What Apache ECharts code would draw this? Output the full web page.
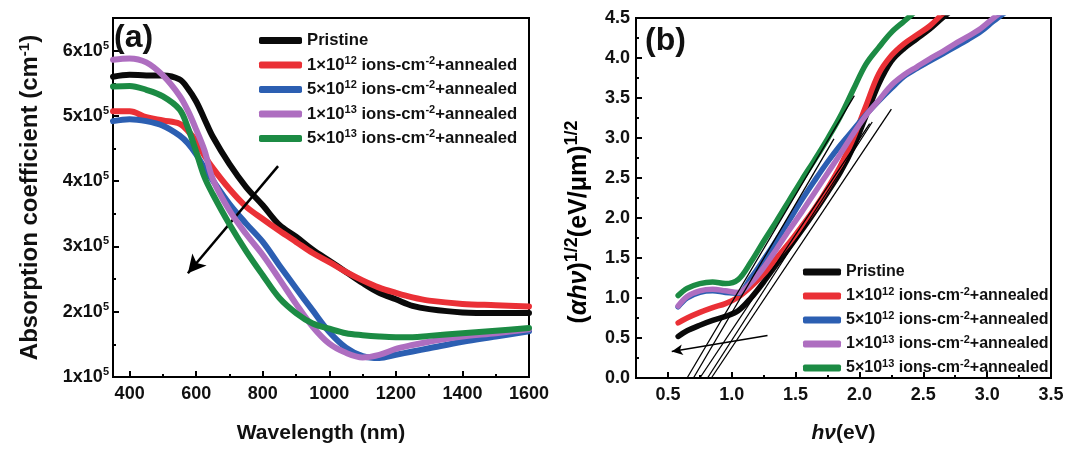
<!DOCTYPE html>
<html>
<head>
<meta charset="utf-8">
<script src="https://cdn.jsdelivr.net/npm/echarts@6/dist/echarts.min.js"></script>
<style>
  html, body { margin: 0; padding: 0; background: #fff; }
  #chart { width: 1067px; height: 449px; }
</style>
</head>
<body>
<div id="chart"></div>
<script>
// ---- data: panel (a) absorption coefficient (x10^5 cm^-1) vs wavelength (nm)
const wavelength = [350, 400, 450, 500, 550, 575, 600, 625, 650, 700, 750, 800, 850, 900, 950, 1000, 1050, 1100, 1150, 1200, 1250, 1300, 1400, 1500, 1600];
const absPristine = [5.60, 5.63, 5.62, 5.62, 5.56, 5.42, 5.22, 4.95, 4.68, 4.26, 3.91, 3.63, 3.33, 3.15, 2.95, 2.78, 2.61, 2.44, 2.29, 2.19, 2.09, 2.04, 1.99, 1.98, 1.98];
const abs1e12 = [5.07, 5.07, 4.98, 4.93, 4.88, 4.77, 4.61, 4.39, 4.20, 3.88, 3.61, 3.42, 3.24, 3.07, 2.90, 2.76, 2.61, 2.48, 2.37, 2.29, 2.22, 2.17, 2.12, 2.10, 2.08];
const abs5e12 = [4.92, 4.95, 4.92, 4.85, 4.70, 4.58, 4.41, 4.20, 4.01, 3.65, 3.35, 3.07, 2.71, 2.36, 2.02, 1.69, 1.45, 1.32, 1.29, 1.34, 1.39, 1.44, 1.54, 1.62, 1.70];
const abs1e13 = [5.86, 5.88, 5.82, 5.62, 5.31, 5.08, 4.79, 4.47, 4.03, 3.55, 3.19, 2.87, 2.50, 2.12, 1.77, 1.51, 1.37, 1.30, 1.34, 1.43, 1.49, 1.54, 1.62, 1.67, 1.73];
const abs5e13 = [5.45, 5.46, 5.40, 5.30, 5.10, 4.82, 4.45, 4.06, 3.80, 3.34, 2.93, 2.56, 2.21, 1.98, 1.82, 1.74, 1.67, 1.64, 1.62, 1.61, 1.61, 1.63, 1.67, 1.71, 1.75];

// ---- data: panel (b) (alpha h nu)^1/2 vs photon energy (eV)
const energy = [0.58, 0.65, 0.75, 0.85, 0.95, 1.05, 1.15, 1.25, 1.35, 1.45, 1.55, 1.65, 1.75, 1.85, 1.95, 2.05, 2.15, 2.25, 2.35, 2.45, 2.55, 2.65, 2.75, 2.85, 2.95, 3.05, 3.15];
const taucPristine = [0.52, 0.59, 0.66, 0.72, 0.77, 0.84, 1.00, 1.20, 1.42, 1.63, 1.85, 2.08, 2.32, 2.57, 2.88, 3.27, 3.67, 3.96, 4.12, 4.24, 4.36, 4.50, 4.63, null, null, null, null];
const tauc1e12 = [0.69, 0.75, 0.82, 0.88, 0.93, 1.01, 1.14, 1.30, 1.50, 1.69, 1.90, 2.12, 2.37, 2.65, 2.99, 3.40, 3.80, 4.03, 4.18, 4.29, 4.40, 4.55, 4.68, null, null, null, null];
const tauc5e12 = [0.89, 1.00, 1.07, 1.09, 1.07, 1.06, 1.25, 1.48, 1.72, 1.97, 2.23, 2.47, 2.70, 2.91, 3.10, 3.29, 3.46, 3.62, 3.77, 3.87, 3.96, 4.05, 4.14, 4.23, 4.33, 4.46, 4.58];
const tauc1e13 = [0.90, 1.02, 1.09, 1.11, 1.09, 1.07, 1.19, 1.38, 1.61, 1.85, 2.08, 2.32, 2.56, 2.80, 3.05, 3.28, 3.47, 3.66, 3.79, 3.89, 3.99, 4.08, 4.18, 4.27, 4.37, 4.50, 4.62];
const tauc5e13 = [1.03, 1.12, 1.18, 1.20, 1.18, 1.23, 1.45, 1.71, 1.96, 2.22, 2.48, 2.73, 2.99, 3.27, 3.60, 3.92, 4.13, 4.32, 4.46, 4.60, null, null, null, null, null, null, null];

// linear fits drawn in (b): start on the energy axis, end point
const fitStartX = [0.65, 0.70, 0.75, 0.81, 0.84];
const fitEndX = [1.96, 1.80, 2.08, 2.10, 2.25];
const fitEndY = [3.53, 2.99, 3.18, 3.20, 3.36];

// annotation arrows [from, to] in data units
const arrowA = [[846, 4.23], [575, 2.59]];
const arrowB = [[1.28, 0.53], [0.53, 0.33]];

// ticks
const wlTicks = [400, 600, 800, 1000, 1200, 1400, 1600];
const wlMinor = [500, 700, 900, 1100, 1300, 1500];
const absTicks = [1, 2, 3, 4, 5, 6];
const absMinor = [1.5, 2.5, 3.5, 4.5, 5.5, 6.5];
const evTicks = [0.5, 1.0, 1.5, 2.0, 2.5, 3.0, 3.5];
const evMinor = [0.75, 1.25, 1.75, 2.25, 2.75, 3.25];

const seriesKeys = ['Pristine', '1e12', '5e12', '1e13', '5e13'];
const colors = ['#0a0a0a', '#ea3036', '#2c5fb2', '#ae6ec0', '#1c8b44'];
const absData = [absPristine, abs1e12, abs5e12, abs1e13, abs5e13];
const taucData = [taucPristine, tauc1e12, tauc5e12, tauc1e13, tauc5e13];

const FONT = '"Liberation Sans", Arial, sans-serif';
const txt = (size) => ({ fontSize: size, fontWeight: 'bold', fontFamily: FONT, color: '#111' });
const sup = (size, raise) => ({ fontSize: size, fontWeight: 'bold', fontFamily: FONT, color: '#111', padding: [0, 0, raise, 0] });

function legendLabel(name) {
  if (name === 'Pristine') return '{t|Pristine}';
  const parts = name.split('e');
  return '{t|' + parts[0] + '×10}{s|' + parts[1] + '}{t| ions-cm}{s|-2}{t|+annealed}';
}

const chart = echarts.init(document.getElementById('chart'));

const blackLine = { color: '#000', width: 2 };
const tickStyle = { color: '#000', width: 2 };

function mainAxis(gridIndex, min, max, extra) {
  return Object.assign({
    gridIndex: gridIndex,
    type: 'value',
    min: min,
    max: max,
    axisLine: { show: true, lineStyle: blackLine },
    splitLine: { show: false },
    axisTick: { inside: true, length: 6, lineStyle: tickStyle },
    axisLabel: Object.assign({ margin: 8 }, txt(18))
  }, extra);
}

function minorAxis(gridIndex, min, max, values, pos) {
  return {
    gridIndex: gridIndex,
    type: 'value',
    min: min,
    max: max,
    position: pos,
    axisLine: { show: false },
    splitLine: { show: false },
    axisLabel: { show: false },
    axisTick: { show: true, inside: true, length: 3, lineStyle: tickStyle, customValues: values }
  };
}

const series = [];
seriesKeys.forEach(function (key, i) {
  series.push({
    name: key, type: 'line', xAxisIndex: 0, yAxisIndex: 0,
    data: wavelength.map((w, j) => [w, absData[i][j]]),
    showSymbol: false, symbol: 'none', smooth: 0.35,
    lineStyle: { width: 6, color: colors[i], cap: 'round', join: 'round' },
    itemStyle: { color: colors[i] },
    z: 2 + i
  });
});
seriesKeys.forEach(function (key, i) {
  series.push({
    name: key, type: 'line', xAxisIndex: 1, yAxisIndex: 1,
    data: energy.map((e, j) => [e, taucData[i][j]]),
    showSymbol: false, symbol: 'none', smooth: 0.35, connectNulls: false,
    lineStyle: { width: 5.5, color: colors[i], cap: 'round', join: 'round' },
    itemStyle: { color: colors[i] },
    z: 2 + i
  });
});
fitStartX.forEach(function (x0, i) {
  series.push({
    type: 'line', xAxisIndex: 1, yAxisIndex: 1, silent: true,
    data: [[x0, 0], [fitEndX[i], fitEndY[i]]],
    showSymbol: false, symbol: 'none',
    lineStyle: { width: 1.3, color: '#000' },
    z: 20
  });
});
series.push({
  type: 'line', xAxisIndex: 0, yAxisIndex: 0, data: [], silent: true,
  markLine: {
    silent: true, animation: false, symbol: ['none', 'arrow'], symbolSize: [14, 18],
    label: { show: false },
    lineStyle: { color: '#000', width: 2.5, type: 'solid' },
    data: [[{ coord: arrowA[0] }, { coord: arrowA[1] }]]
  },
  z: 30
});
series.push({
  type: 'line', xAxisIndex: 1, yAxisIndex: 1, data: [], silent: true,
  markLine: {
    silent: true, animation: false, symbol: ['none', 'arrow'], symbolSize: [8, 11],
    label: { show: false },
    lineStyle: { color: '#000', width: 1.5, type: 'solid' },
    data: [[{ coord: arrowB[0] }, { coord: arrowB[1] }]]
  },
  z: 30
});

function legendAt(left, top, size, width) {
  return {
    data: seriesKeys, orient: 'vertical', left: left, top: top,
    icon: 'roundRect', itemWidth: width, itemHeight: 7, itemGap: 6,
    selectedMode: false, formatter: legendLabel,
    textStyle: { rich: { t: txt(size), s: sup(11, 9) } }
  };
}

const option = {
  backgroundColor: '#fff',
  animation: false,
  grid: [
    { left: 113, top: 18, width: 416, height: 365, show: true, borderColor: '#000', borderWidth: 2 },
    { left: 636, top: 18, width: 415, height: 364, show: true, borderColor: '#000', borderWidth: 2 }
  ],
  legend: [legendAt(254, 27, 16.7, 43), legendAt(798, 259, 16, 38)],
  xAxis: [
    mainAxis(0, 350, 1600, {
      position: 'bottom',
      axisTick: { inside: true, length: 6, lineStyle: tickStyle, customValues: wlTicks },
      axisLabel: Object.assign({ margin: 8, customValues: wlTicks, formatter: (v) => String(v) }, txt(18)),
      name: 'Wavelength (nm)', nameLocation: 'middle', nameGap: 46,
      nameTextStyle: txt(21)
    }),
    mainAxis(1, 0.25, 3.5, {
      position: 'bottom',
      axisTick: { inside: true, length: 6, lineStyle: tickStyle, customValues: evTicks },
      axisLabel: Object.assign({ margin: 8, customValues: evTicks, formatter: (v) => v.toFixed(1) }, txt(18)),
      name: '{i|hν}{t|(eV)}', nameLocation: 'middle', nameGap: 45,
      nameTextStyle: { rich: { i: Object.assign(txt(21), { fontStyle: 'italic' }), t: txt(21) } }
    }),
    minorAxis(0, 350, 1600, wlMinor, 'bottom'),
    minorAxis(1, 0.25, 3.5, evMinor, 'bottom')
  ],
  yAxis: [
    mainAxis(0, 1, 6.5, {
      position: 'left',
      axisTick: { inside: true, length: 6, lineStyle: tickStyle, customValues: absTicks },
      axisLabel: {
        margin: 4, customValues: absTicks,
        formatter: (v) => '{t|' + v + 'x10}{s|5}',
        rich: { t: txt(18), s: sup(11, 10) }
      },
      name: '{t|Absorption coefficient (cm}{s|-1}{t|)}', nameLocation: 'middle', nameGap: 70,
      nameTextStyle: { rich: { t: txt(24), s: sup(15, 11) } }
    }),
    mainAxis(1, 0, 4.5, {
      position: 'left', interval: 0.5,
      minorTick: { show: true, splitNumber: 2, length: 3, lineStyle: tickStyle },
      axisLabel: Object.assign({ margin: 6, formatter: (v) => v.toFixed(1) }, txt(18))
    }),
    minorAxis(0, 1, 6.5, absMinor, 'left')
  ],
  graphic: [
    { type: 'text', left: 114, top: 22, z: 50, style: { text: '(a)', font: 'bold 32px ' + FONT, fill: '#111' } },
    { type: 'text', left: 645, top: 25, z: 50, style: { text: '(b)', font: 'bold 32px ' + FONT, fill: '#111' } },
    {
      type: 'text', x: 579, y: 222, rotation: Math.PI / 2, z: 50,
      style: {
        text: '{t|(}{i|αhν}{t|)}{s|1/2}{t|(eV/μm)}{s|1/2}',
        align: 'center', verticalAlign: 'middle',
        rich: { t: txt(25), i: Object.assign(txt(25), { fontStyle: 'italic' }), s: sup(18, 14) }
      }
    }
  ],
  series: series
};

chart.setOption(option);
</script>
</body>
</html>
